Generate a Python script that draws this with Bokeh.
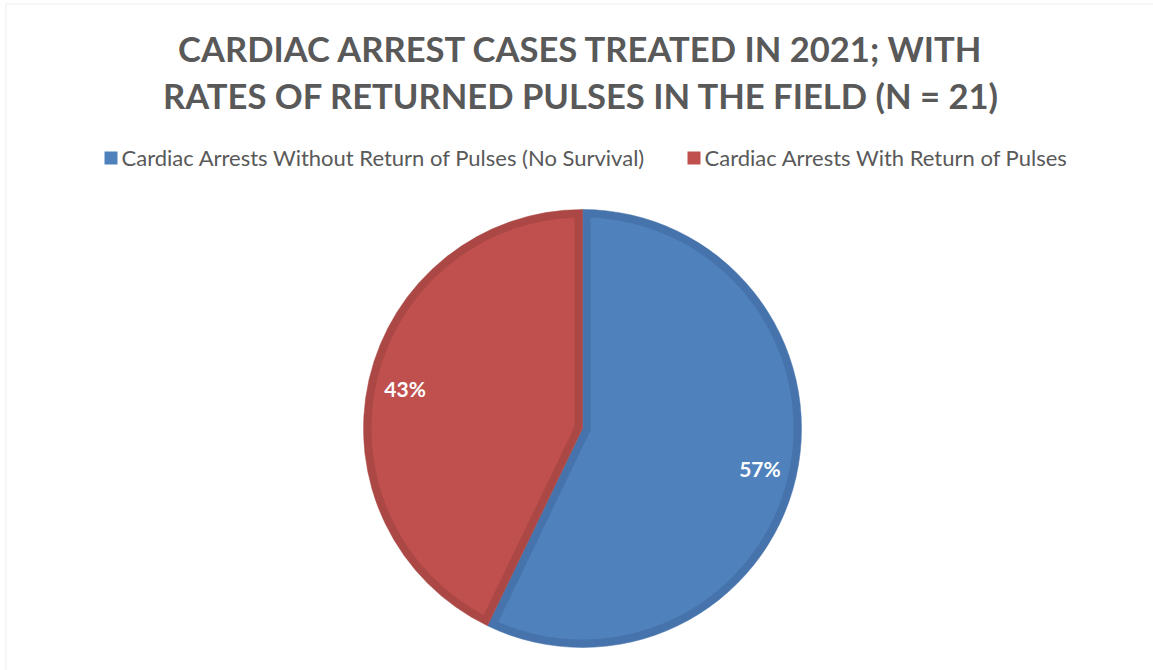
import math
from bokeh.plotting import figure
from bokeh.models import Range1d, Label, BoxAnnotation, ColumnDataSource
from bokeh.embed import file_html
from bokeh.resources import INLINE

# ---- data ----
title_lines = ["CARDIAC ARREST CASES TREATED IN 2021; WITH",
               "RATES OF RETURNED PULSES IN THE FIELD (N = 21)"]
categories = ["Cardiac Arrests Without Return of Pulses (No Survival)",
              "Cardiac Arrests With Return of Pulses"]
counts = [12, 9]
fill_colors = ["#4F81BD", "#C0504D"]
border_colors = ["#4673AB", "#AB4845"]

W, H = 1153, 670
FONT = "Lato"
TXT = "#595959"

p = figure(width=W, height=H, output_backend="svg", toolbar_location=None,
           x_range=Range1d(0, W), y_range=Range1d(0, H),
           x_axis_location=None, y_axis_location=None, min_border=0)
p.grid.visible = False
p.outline_line_color = None
p.background_fill_color = "white"
p.border_fill_color = "white"

def sy(y):  # screen-y to data-y
    return H - y

# chart area border
p.add_layout(BoxAnnotation(left=5.5, right=W + 20, top=sy(3.5), bottom=-20,
                           fill_color=None, line_color="#D9D9D9", line_width=1.5))

# ---- title ----
for i, t in enumerate(title_lines):
    p.add_layout(Label(x=581, y=sy(48 + 47 * i), text=t, text_align="center",
                       text_baseline="middle", text_font=FONT, text_font_style="bold",
                       text_font_size="34.6px", text_color=TXT))

# ---- legend ----
leg_x = [104, 687]
for i, name in enumerate(categories):
    p.add_layout(BoxAnnotation(left=leg_x[i], right=leg_x[i] + 13,
                               top=sy(151), bottom=sy(164),
                               fill_color=fill_colors[i], fill_alpha=1.0,
                               line_color=None))
    p.add_layout(Label(x=leg_x[i] + 17, y=sy(157), text=name, text_align="left",
                       text_baseline="middle", text_font=FONT, text_font_size="22px",
                       text_color=TXT))

# ---- pie ----
cx, cy, R, bw = 582, sy(428), 219, 8
total = sum(counts)
cum = 0
starts, ends = [], []
for c in counts:
    starts.append(90 - 360 * cum / total)
    cum += c
    ends.append(90 - 360 * cum / total)

src = ColumnDataSource(dict(start=[math.radians(a) for a in starts],
                            end=[math.radians(a) for a in ends],
                            fill=fill_colors, border=border_colors))
p.wedge(x=cx, y=cy, radius=R, start_angle="start", end_angle="end",
        direction="clock", fill_color="border", line_color="border",
        line_width=0.5, source=src)

xs, ys = [], []
ri = R - bw
delta = math.degrees(math.asin(bw / ri))
for s, e in zip(starts, ends):
    half = (s - e) / 2
    bis = (s + e) / 2
    d = bw / math.sin(math.radians(half))
    ax = cx + d * math.cos(math.radians(bis))
    ay = cy + d * math.sin(math.radians(bis))
    a0, a1 = s - delta, e + delta
    n = 200
    px, py = [ax], [ay]
    for k in range(n + 1):
        a = math.radians(a0 + (a1 - a0) * k / n)
        px.append(cx + ri * math.cos(a))
        py.append(cy + ri * math.sin(a))
    xs.append(px)
    ys.append(py)
p.patches(xs=xs, ys=ys, fill_color=fill_colors, line_color=None)

# percentage labels
lr = 182
for s, e, c in zip(starts, ends, counts):
    bis = math.radians((s + e) / 2)
    p.add_layout(Label(x=cx + lr * math.cos(bis), y=cy + lr * math.sin(bis),
                       text=f"{round(100 * c / total)}%", text_align="center",
                       text_baseline="middle", text_font=FONT, text_font_style="bold",
                       text_font_size="21px", text_color="white"))

open("out.html", "w").write(file_html(p, INLINE))
